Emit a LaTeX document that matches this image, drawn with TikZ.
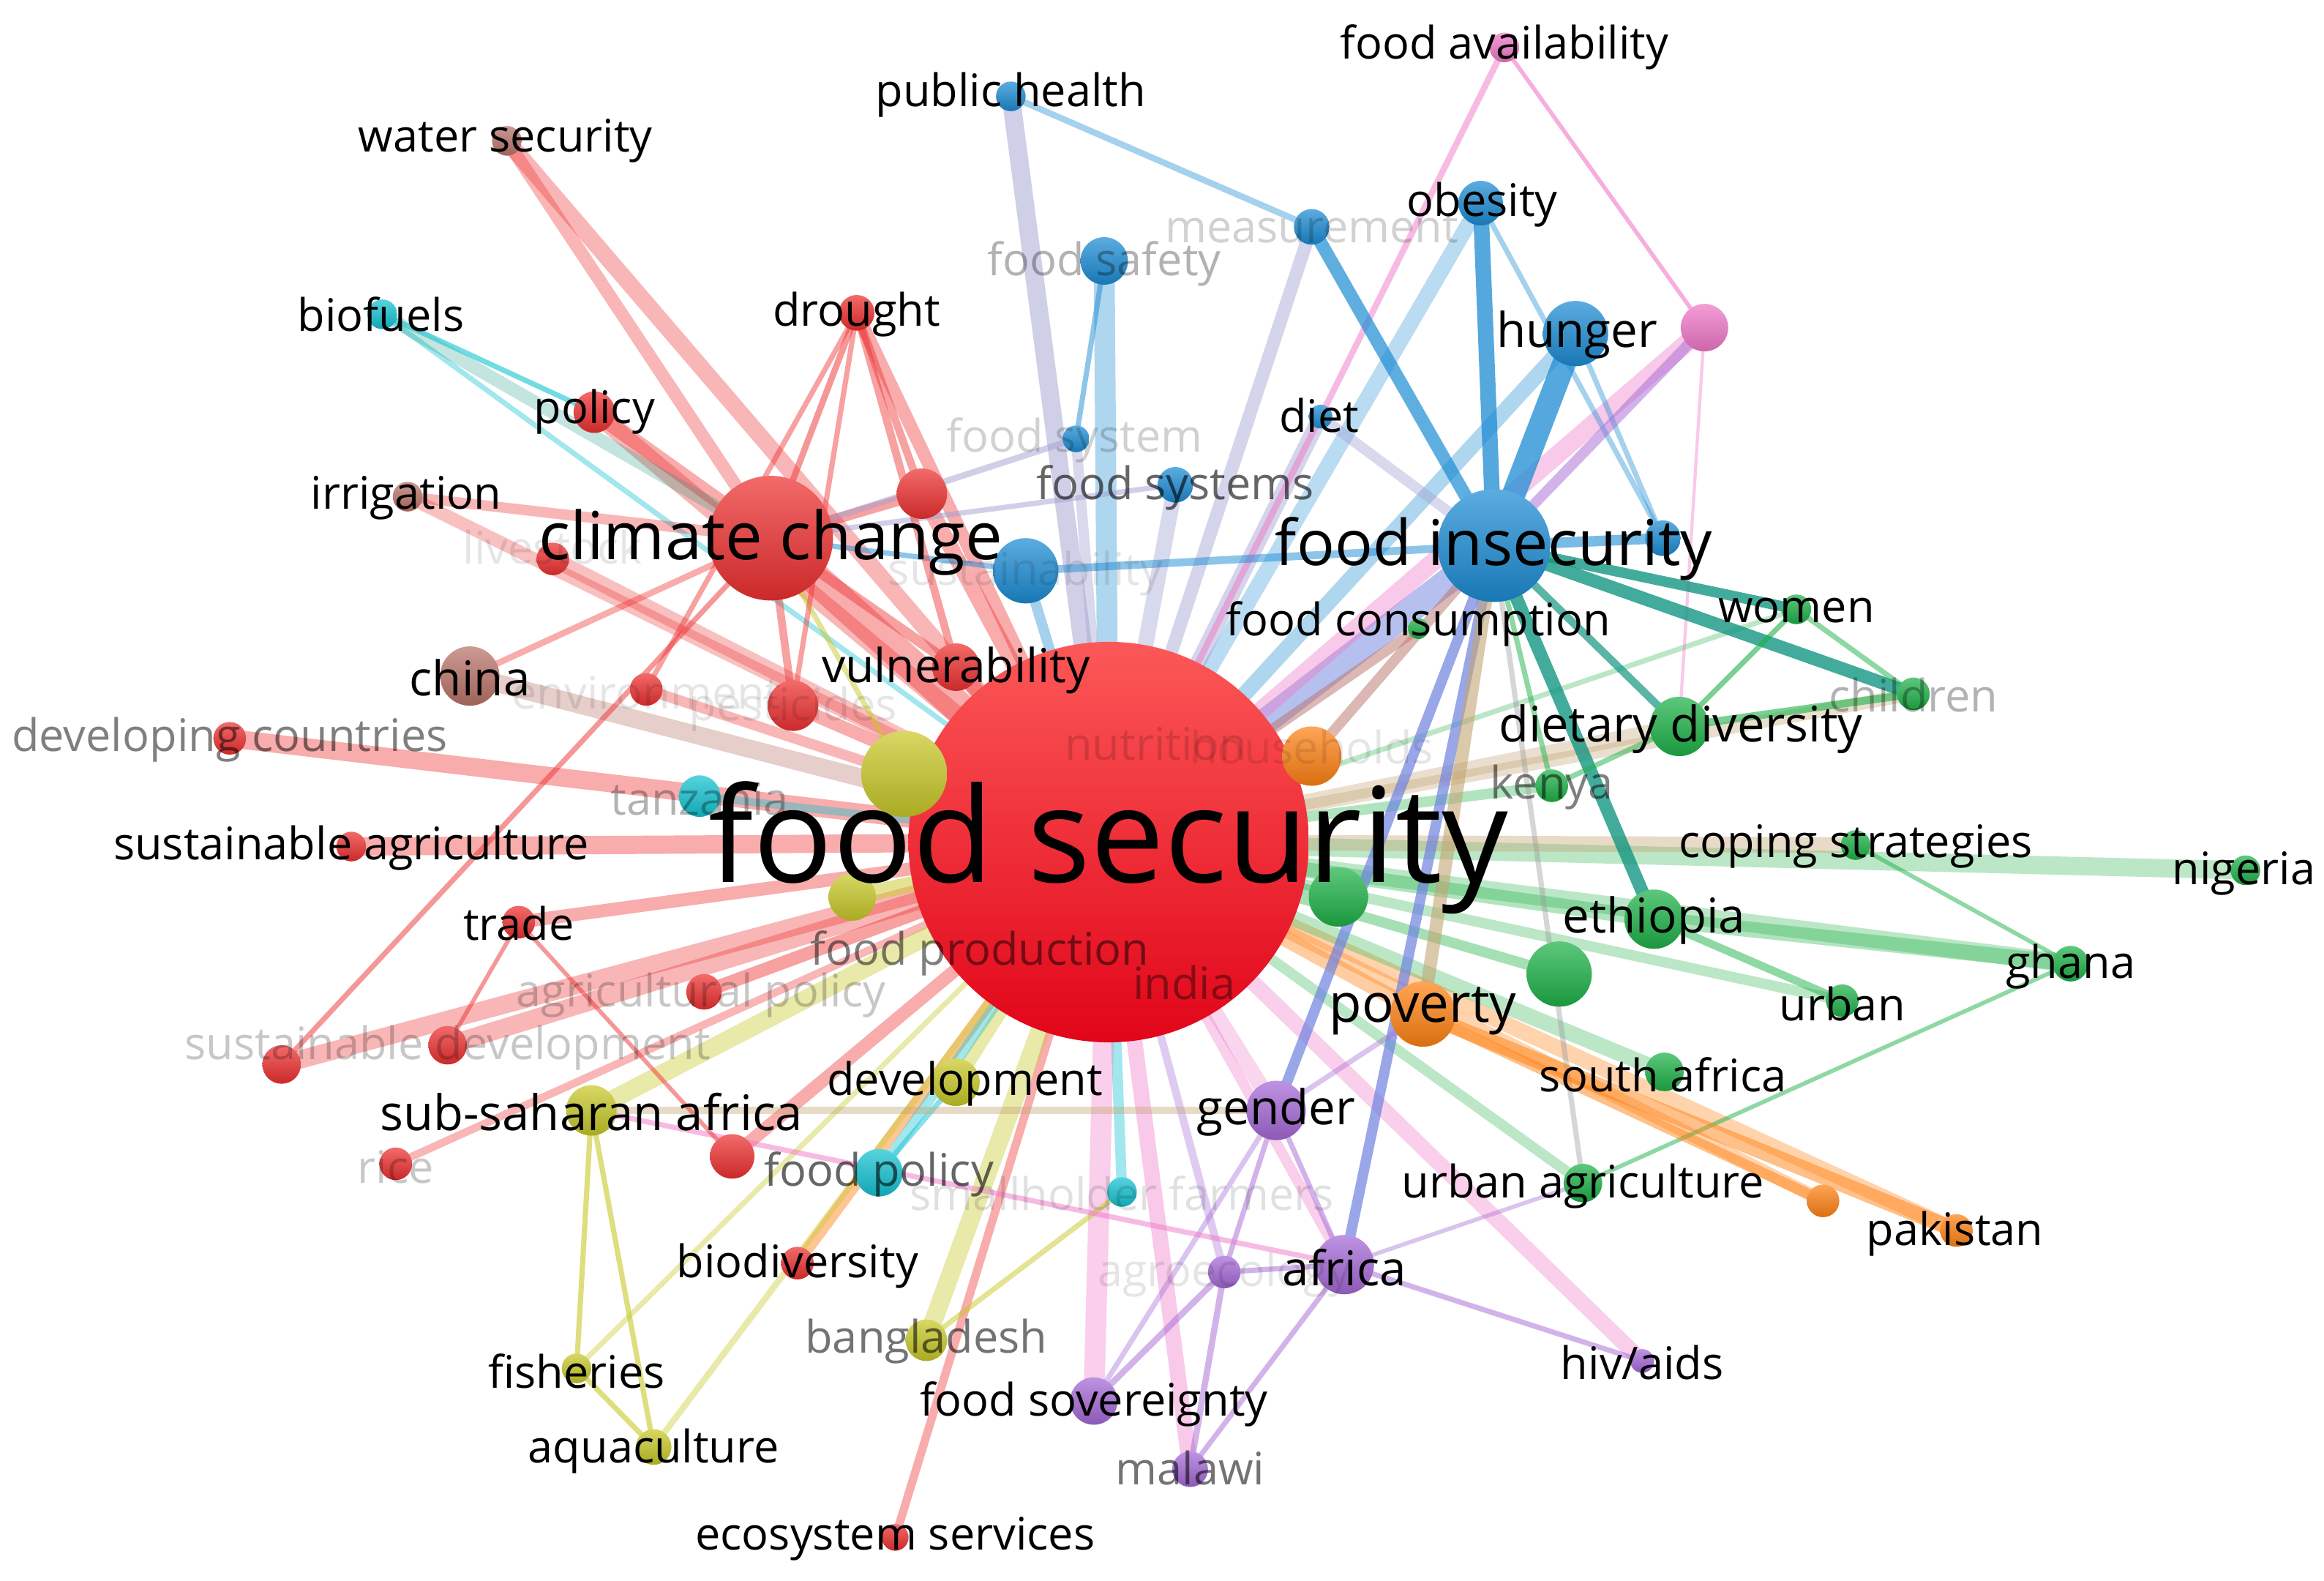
\documentclass[tikz,border=0pt]{standalone}
\usepackage{fontspec}
\setmainfont{Open Sans}
\pgfdeclarelayer{bgfill}
\pgfdeclarelayer{edges}
\pgfsetlayers{bgfill,edges,main}
\definecolor{cRed}{RGB}{238,48,48}
\definecolor{cBlue}{RGB}{28,140,212}
\definecolor{cGreen}{RGB}{30,178,72}
\definecolor{cYellow}{RGB}{200,200,40}
\definecolor{cPurple}{RGB}{165,105,215}
\definecolor{cCyan}{RGB}{20,195,210}
\definecolor{cOrange}{RGB}{255,130,20}
\definecolor{cBrown}{RGB}{185,115,105}
\definecolor{cPink}{RGB}{240,120,200}
\definecolor{cLav}{RGB}{160,160,210}
\definecolor{cTan}{RGB}{195,165,115}
\definecolor{cTeal}{RGB}{20,150,130}
\definecolor{cPB}{RGB}{110,130,225}
\definecolor{fsTop}{RGB}{252,88,88}
\definecolor{fsBot}{RGB}{225,5,25}
\tikzset{
  bubble/.style={circle, inner sep=0pt, draw=none, top color=#1!72!white, bottom color=#1!85!black},
  lab/.style={inner sep=0pt, text=black, font=\fontsize{8.6}{10}\selectfont},
  faint/.style={text opacity=0.18},
  grayl/.style={text opacity=0.5},
  link/.style={line cap=butt},
}
\newcommand\bub[5]{\node[bubble=#4, minimum size=#5*0.02cm] (#1) at (#2,#3) {};}
\newcommand\lnk[5]{\draw[link, draw=#3, line width=#4pt, draw opacity=#5] (#1.center) -- (#2.center);}
\newcommand\fsz[1]{\fontsize{#1}{#1}\selectfont}
\begin{document}
\begin{tikzpicture}[x=0.01cm,y=-0.01cm]
\useasboundingbox (0,0) rectangle (1568,1066.4);
\begin{pgfonlayer}{bgfill}
\fill[white] (0,0) rectangle (1568,1066.4);
\end{pgfonlayer}
% ---------- bubbles ----------
\node[circle, inner sep=0pt, minimum size=2.70cm, top color=fsTop, bottom color=fsBot] (fs) at (748,568) {};
\bub{cc}{520}{363}{cRed}{42}
\bub{fi}{1008}{368}{cBlue}{38}
\bub{hun}{1063}{225}{cBlue}{22}
\bub{obe}{999}{137}{cBlue}{15}
\bub{ph}{682}{65}{cBlue}{10}
\bub{meas}{885}{153}{cBlue}{12}
\bub{fsaf}{745}{176}{cBlue}{16}
\bub{fsys}{726}{296}{cBlue}{9}
\bub{fsyss}{793}{327}{cBlue}{12}
\bub{diet}{891}{281}{cBlue}{8}
\bub{sus}{692}{385}{cBlue}{22}
\bub{bR}{1122}{363}{cBlue}{12}
\bub{fcon}{957}{424}{cGreen}{7}
\bub{pk}{1150}{221}{cPink}{16}
\bub{favail}{1015}{32}{cPink}{10}
\bub{ws}{342}{95}{cBrown}{10}
\bub{bio}{258}{212}{cCyan}{10}
\bub{dro}{578}{211}{cRed}{12}
\bub{pol}{401}{278}{cRed}{14}
\bub{irr}{275}{335}{cBrown}{10}
\bub{rA}{622}{333}{cRed}{17}
\bub{lst}{373}{377}{cRed}{11}
\bub{chi}{317}{456}{cBrown}{20}
\bub{env}{436}{465}{cRed}{11}
\bub{pest}{535}{476}{cRed}{17}
\bub{vul}{645}{450}{cRed}{16}
\bub{dc}{155}{498}{cRed}{11}
\bub{tan}{472}{537}{cCyan}{14}
\bub{yA}{610}{522}{cYellow}{29}
\bub{yB}{575}{605}{cYellow}{16}
\bub{sagr}{237}{571}{cRed}{10}
\bub{tra}{350}{622}{cRed}{11}
\bub{agp}{475}{669}{cRed}{12}
\bub{sdev}{302}{705}{cRed}{13}
\bub{rB}{190}{718}{cRed}{13}
\bub{ssa}{399}{749}{cYellow}{17}
\bub{rice}{267}{785}{cRed}{11}
\bub{rC}{494}{780}{cRed}{15}
\bub{dev}{645}{730}{cYellow}{16}
\bub{fpol}{593}{791}{cCyan}{16}
\bub{sh}{757}{804}{cCyan}{10}
\bub{biod}{538}{852}{cRed}{11}
\bub{bang}{625}{904}{cYellow}{14}
\bub{fish}{389}{923}{cYellow}{10}
\bub{aqua}{441}{976}{cYellow}{12}
\bub{fsov}{738}{945}{cPurple}{16}
\bub{mal}{803}{991}{cPurple}{12}
\bub{eco}{604}{1037}{cRed}{9}
\bub{agro}{826}{858}{cPurple}{11}
\bub{afr}{907}{853}{cPurple}{20}
\bub{gen}{861}{749}{cPurple}{20}
\bub{hiv}{1108}{918}{cPurple}{8}
\bub{hh}{885}{510}{cOrange}{20}
\bub{ken}{1047}{530}{cGreen}{11}
\bub{dd}{1133}{490}{cGreen}{20}
\bub{chil}{1291}{468}{cGreen}{11}
\bub{wom}{1212}{411}{cGreen}{10}
\bub{cop}{1252}{570}{cGreen}{10}
\bub{nig}{1515}{587}{cGreen}{10}
\bub{eth}{1116}{620}{cGreen}{20}
\bub{gA}{903}{605}{cGreen}{20}
\bub{gB}{1052}{657}{cGreen}{22}
\bub{gha}{1397}{650}{cGreen}{12}
\bub{urb}{1243}{675}{cGreen}{11}
\bub{pov}{960}{684}{cOrange}{22}
\bub{saf}{1123}{723}{cGreen}{13}
\bub{ua}{1068}{798}{cGreen}{13}
\bub{oA}{1230}{810}{cOrange}{11}
\bub{pak}{1320}{830}{cOrange}{11}
% ---------- links ----------
\begin{pgfonlayer}{edges}
\lnk{fs}{ws}{cRed}{3.2}{0.35}
\lnk{fs}{cc}{cRed}{6}{0.4}
\lnk{fs}{dro}{cRed}{2.5}{0.4}
\lnk{fs}{pol}{cRed}{3.5}{0.35}
\lnk{fs}{irr}{cRed}{2.5}{0.3}
\lnk{fs}{lst}{cRed}{3}{0.3}
\lnk{fs}{chi}{cBrown}{3.5}{0.35}
\lnk{fs}{env}{cRed}{2}{0.35}
\lnk{fs}{pest}{cRed}{2.5}{0.4}
\lnk{fs}{vul}{cRed}{3}{0.45}
\lnk{fs}{dc}{cRed}{3.5}{0.4}
\lnk{fs}{sagr}{cRed}{3.5}{0.4}
\lnk{fs}{tra}{cRed}{2.5}{0.4}
\lnk{fs}{agp}{cRed}{2.5}{0.45}
\lnk{fs}{sdev}{cRed}{3.5}{0.35}
\lnk{fs}{rB}{cRed}{3.5}{0.35}
\lnk{fs}{rice}{cRed}{1.5}{0.35}
\lnk{fs}{rC}{cRed}{2.5}{0.4}
\lnk{fs}{biod}{cOrange}{2.2}{0.45}
\lnk{fs}{eco}{cRed}{1.6}{0.4}
\lnk{fs}{rA}{cRed}{3}{0.4}
\lnk{fs}{bio}{cCyan}{1}{0.4}
\lnk{fs}{tan}{cCyan}{1.5}{0.4}
\lnk{fs}{yA}{cYellow}{3}{0.5}
\lnk{fs}{yB}{cYellow}{3}{0.5}
\lnk{fs}{ssa}{cYellow}{3.5}{0.4}
\lnk{fs}{dev}{cYellow}{2.5}{0.4}
\lnk{fs}{fpol}{cCyan}{2}{0.4}
\lnk{fs}{sh}{cCyan}{2}{0.4}
\lnk{fs}{bang}{cYellow}{3.5}{0.4}
\lnk{fs}{fish}{cYellow}{1}{0.4}
\lnk{fs}{aqua}{cYellow}{1.2}{0.4}
\lnk{fs}{fsov}{cPink}{4}{0.35}
\lnk{fs}{mal}{cPink}{3}{0.4}
\lnk{fs}{agro}{cPurple}{1.5}{0.35}
\lnk{fs}{afr}{cPink}{2}{0.35}
\lnk{fs}{gen}{cPink}{3}{0.3}
\lnk{fs}{hiv}{cPink}{3}{0.35}
\lnk{fs}{pov}{cOrange}{3}{0.4}
\lnk{fs}{pak}{cOrange}{3}{0.35}
\lnk{fs}{oA}{cOrange}{2.5}{0.35}
\lnk{fs}{ua}{cGreen}{2}{0.3}
\lnk{fs}{saf}{cGreen}{3}{0.3}
\lnk{fs}{urb}{cGreen}{2}{0.3}
\lnk{fs}{gha}{cGreen}{3.5}{0.3}
\lnk{fs}{eth}{cGreen}{3}{0.35}
\lnk{fs}{nig}{cGreen}{3.5}{0.3}
\lnk{fs}{cop}{cTan}{3}{0.4}
\lnk{fs}{dd}{cTan}{3}{0.35}
\lnk{fs}{ken}{cGreen}{2}{0.35}
\lnk{fs}{chil}{cTan}{2.5}{0.35}
\lnk{fs}{wom}{cGreen}{1}{0.3}
\lnk{fs}{gA}{cGreen}{2}{0.4}
\lnk{fs}{gB}{cGreen}{2}{0.4}
\lnk{fs}{fi}{cPB}{5}{0.5}
\lnk{fs}{hun}{cBlue}{3}{0.35}
\lnk{fs}{obe}{cBlue}{3}{0.3}
\lnk{fs}{meas}{cLav}{2.5}{0.45}
\lnk{fs}{ph}{cLav}{3.5}{0.5}
\lnk{fs}{fsaf}{cBlue}{4}{0.35}
\lnk{fs}{fsyss}{cLav}{3}{0.4}
\lnk{fs}{fsys}{cLav}{2}{0.4}
\lnk{fs}{diet}{cLav}{3}{0.45}
\lnk{fs}{pk}{cPink}{3.5}{0.4}
\lnk{fs}{favail}{cPink}{1.2}{0.5}
\lnk{fs}{sus}{cBlue}{2}{0.4}
\lnk{fs}{hh}{cOrange}{3}{0.4}
\lnk{fs}{fcon}{cBrown}{2}{0.5}
\lnk{cc}{ws}{cRed}{2.5}{0.35}
\lnk{cc}{dro}{cRed}{1.2}{0.5}
\lnk{cc}{pol}{cRed}{3}{0.4}
\lnk{cc}{irr}{cRed}{2}{0.35}
\lnk{cc}{bio}{cTeal}{2.5}{0.25}
\lnk{cc}{vul}{cRed}{2}{0.45}
\lnk{cc}{rA}{cRed}{2}{0.45}
\lnk{cc}{chi}{cRed}{1.2}{0.4}
\lnk{cc}{pest}{cRed}{1.5}{0.45}
\lnk{cc}{yA}{cYellow}{1}{0.5}
\lnk{cc}{rB}{cRed}{1}{0.5}
\lnk{cc}{sus}{cBlue}{1}{0.5}
\lnk{cc}{fsys}{cLav}{1.2}{0.5}
\lnk{cc}{fsyss}{cLav}{1}{0.5}
\lnk{dro}{env}{cRed}{1}{0.45}
\lnk{dro}{vul}{cRed}{1.5}{0.45}
\lnk{dro}{rA}{cRed}{1.5}{0.45}
\lnk{dro}{pest}{cRed}{1}{0.45}
\lnk{bio}{pol}{cCyan}{1}{0.6}
\lnk{ph}{meas}{cBlue}{1.2}{0.4}
\lnk{meas}{fi}{cBlue}{2.5}{0.7}
\lnk{obe}{fi}{cBlue}{3}{0.75}
\lnk{obe}{bR}{cBlue}{1}{0.4}
\lnk{hun}{fi}{cBlue}{4.5}{0.75}
\lnk{hun}{bR}{cBlue}{1}{0.4}
\lnk{pk}{favail}{cPink}{0.8}{0.6}
\lnk{pk}{fi}{cPurple}{2}{0.5}
\lnk{pk}{dd}{cPink}{0.6}{0.4}
\lnk{fsaf}{fsys}{cBlue}{1}{0.5}
\lnk{sus}{fi}{cBlue}{1.5}{0.5}
\lnk{diet}{fi}{cLav}{2}{0.4}
\lnk{fi}{wom}{cTeal}{2}{0.8}
\lnk{fi}{chil}{cTeal}{2.5}{0.8}
\lnk{fi}{dd}{cTeal}{1.5}{0.7}
\lnk{fi}{eth}{cTeal}{2.5}{0.8}
\lnk{fi}{gen}{cPB}{2}{0.7}
\lnk{fi}{afr}{cPB}{2}{0.7}
\lnk{fi}{pov}{cTan}{2.5}{0.6}
\lnk{fi}{ken}{cGreen}{1}{0.5}
\lnk{fi}{ua}{black!40}{1}{0.4}
\lnk{fi}{bR}{cBlue}{2}{0.6}
\lnk{fi}{hh}{cBrown}{2}{0.5}
\lnk{dd}{wom}{cGreen}{1}{0.6}
\lnk{dd}{chil}{cGreen}{1.5}{0.6}
\lnk{dd}{ken}{cGreen}{1}{0.5}
\lnk{wom}{chil}{cGreen}{1}{0.5}
\lnk{cop}{gha}{cGreen}{0.8}{0.5}
\lnk{eth}{urb}{cGreen}{1.5}{0.5}
\lnk{eth}{gha}{cGreen}{3}{0.35}
\lnk{gha}{ua}{cGreen}{0.8}{0.5}
\lnk{pov}{pak}{cOrange}{3}{0.5}
\lnk{pov}{oA}{cOrange}{2}{0.5}
\lnk{gen}{afr}{cPurple}{1}{0.5}
\lnk{gen}{fsov}{cPurple}{1}{0.4}
\lnk{gen}{pov}{cPurple}{1}{0.4}
\lnk{afr}{hiv}{cPurple}{1}{0.5}
\lnk{afr}{mal}{cPurple}{1}{0.5}
\lnk{afr}{agro}{cPurple}{1}{0.5}
\lnk{afr}{ua}{cPurple}{0.8}{0.4}
\lnk{agro}{fsov}{cPurple}{1.2}{0.5}
\lnk{agro}{mal}{cPurple}{1.2}{0.5}
\lnk{agro}{gen}{cPurple}{1}{0.5}
\lnk{fpol}{dev}{cCyan}{1}{0.5}
\lnk{sh}{bang}{cYellow}{1}{0.5}
\lnk{ssa}{fish}{cYellow}{1}{0.6}
\lnk{ssa}{aqua}{cYellow}{1}{0.6}
\lnk{fish}{aqua}{cYellow}{1}{0.6}
\lnk{ssa}{gen}{cTan}{1.5}{0.4}
\lnk{ssa}{afr}{cPink}{1}{0.5}
\lnk{tra}{sdev}{cRed}{0.8}{0.5}
\lnk{tra}{rC}{cRed}{0.8}{0.5}
\end{pgfonlayer}
% ---------- labels ----------
\node[lab, font=\fsz{25.3}] (fs-l) at (748,572) {food security};
\node[lab, font=\fsz{12.7}] (cc-l) at (520,366) {climate change};
\node[lab, font=\fsz{12.1}] (fi-l) at (1008,370) {food insecurity};
\node[lab, font=\fsz{9.2}] (hun-l) at (1064,226) {hunger};
\node[lab] (obe-l) at (1000,138) {obesity};
\node[lab] (ph-l) at (682,64) {public health};
\node[lab, faint] (meas-l) at (885,154) {measurement};
\node[lab, text opacity=0.3] (fsaf-l) at (745,178) {food safety};
\node[lab, faint] (fsys-l) at (725,297) {food system};
\node[lab, text opacity=0.6] (fsyss-l) at (793,329) {food systems};
\node[lab] (diet-l) at (890,280) {diet};
\node[lab, text opacity=0.1] (sus-l) at (692,387) {sustainability};
\node[lab] (fcon-l) at (957,421) {food consumption};
\node[lab] (favail-l) at (1015,32) {food availability};
\node[lab] (ws-l) at (341,95) {water security};
\node[lab] (bio-l) at (257,212) {biofuels};
\node[lab] (dro-l) at (578,212) {drought};
\node[lab] (pol-l) at (401,278) {policy};
\node[lab] (irr-l) at (274,336) {irrigation};
\node[lab, text opacity=0.1] (lst-l) at (373,369) {livestock};
\node[lab, font=\fsz{9.2}] (chi-l) at (317,457) {china};
\node[lab, text opacity=0.1] (env-l) at (436,467) {environment};
\node[lab, text opacity=0.1] (pest-l) at (535,478) {pesticides};
\node[lab, font=\fsz{9}] (vul-l) at (645,452) {vulnerability};
\node[lab, grayl] (dc-l) at (155,499) {developing countries};
\node[lab, text opacity=0.3] (tan-l) at (472,539) {tanzania};
\node[lab] (sagr-l) at (237,572) {sustainable agriculture};
\node[lab] (tra-l) at (350,623) {trade};
\node[lab, text opacity=0.22] (agp-l) at (473,671) {agricultural policy};
\node[lab, text opacity=0.22] (sdev-l) at (302,707) {sustainable development};
\node[lab, font=\fsz{9.4}] (ssa-l) at (399,750) {sub-saharan africa};
\node[lab, text opacity=0.22] (rice-l) at (267,787) {rice};
\node[lab] (dev-l) at (651,731) {development};
\node[lab, text opacity=0.6] (fpol-l) at (593,792) {food policy};
\node[lab, text opacity=0.12] (sh-l) at (757,805) {smallholder farmers};
\node[lab] (biod-l) at (538,854) {biodiversity};
\node[lab, text opacity=0.55] (bang-l) at (625,905) {bangladesh};
\node[lab] (fish-l) at (389,925) {fisheries};
\node[lab] (aqua-l) at (441,979) {aquaculture};
\node[lab] (fsov-l) at (738,947) {food sovereignty};
\node[lab, text opacity=0.55] (mal-l) at (803,990) {malawi};
\node[lab] (eco-l) at (604,1038) {ecosystem services};
\node[lab, text opacity=0.1] (agro-l) at (826,860) {agroecology};
\node[lab, font=\fsz{9.2}] (afr-l) at (907,855) {africa};
\node[lab, font=\fsz{9.2}] (gen-l) at (861,750) {gender};
\node[lab] (hiv-l) at (1108,919) {hiv/aids};
\node[lab, text opacity=0.4] (ind-l) at (799,663) {india};
\node[lab, text opacity=0.5] (fprod-l) at (661,643) {food production};
\node[lab, text opacity=0.15] (nut-l) at (780,502) {nutrition};
\node[lab, text opacity=0.1] (hh-l) at (885,504) {households};
\node[lab, text opacity=0.5] (ken-l) at (1047,531) {kenya};
\node[lab, font=\fsz{9.4}] (dd-l) at (1134,492) {dietary diversity};
\node[lab, text opacity=0.3] (chil-l) at (1291,469) {children};
\node[lab] (wom-l) at (1212,412) {women};
\node[lab] (cop-l) at (1252,571) {coping strategies};
\node[lab] (nig-l) at (1514,589) {nigeria};
\node[lab, font=\fsz{9.2}] (eth-l) at (1116,621) {ethiopia};
\node[lab] (gha-l) at (1397,652) {ghana};
\node[lab] (urb-l) at (1243,677) {urban};
\node[lab, font=\fsz{10.2}] (pov-l) at (960,682) {poverty};
\node[lab] (saf-l) at (1122,725) {south africa};
\node[lab] (ua-l) at (1068,800) {urban agriculture};
\node[lab] (pak-l) at (1319,832) {pakistan};
\end{tikzpicture}
\end{document}
